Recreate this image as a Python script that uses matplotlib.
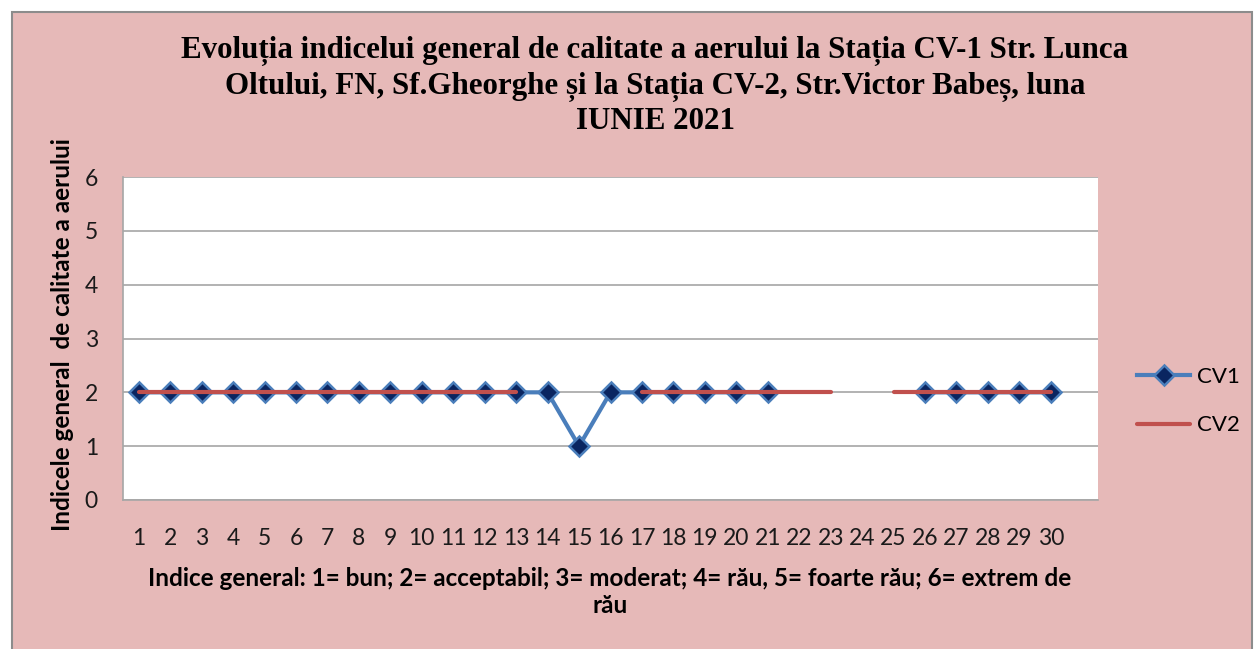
import numpy as np
import matplotlib
matplotlib.use("Agg")
import matplotlib.pyplot as plt
from matplotlib.patches import Rectangle

days = list(range(1, 32))
day_labels = [str(d) for d in range(1, 31)] + [""]
nan = np.nan
cv1 = [2, 2, 2, 2, 2, 2, 2, 2, 2, 2, 2, 2, 2, 2, 1, 2, 2, 2, 2, 2, 2,
       nan, nan, nan, nan, 2, 2, 2, 2, 2, nan]
cv2 = [2, 2, 2, 2, 2, 2, 2, 2, 2, 2, 2, 2, 2, nan, nan, nan, 2, 2, 2, 2, 2, 2, 2,
       nan, 2, 2, 2, 2, 2, 2, nan]
yticks = [0, 1, 2, 3, 4, 5, 6]

title = ("Evoluția indicelui general de calitate a aerului la Stația CV-1 Str. Lunca\n"
         "Oltului, FN, Sf.Gheorghe și la Stația CV-2, Str.Victor Babeș, luna\n"
         "IUNIE 2021")
xlabel = ("Indice general: 1= bun; 2= acceptabil; 3= moderat; 4= rău, 5= foarte rău; 6= extrem de\n"
          "rău")
ylabel = "Indicele general  de calitate a aerului"

W, H = 1255, 649
fig = plt.figure(figsize=(W / 100, H / 100), dpi=100, facecolor="white")
bg = "#E6B9B8"
fig.patches.append(Rectangle((12 / W, -0.05), (1252 - 12) / W, (H - 12) / H + 0.05,
                             transform=fig.transFigure, facecolor=bg,
                             edgecolor="#8C8C8C", linewidth=1.5, zorder=-10))

ax = fig.add_axes([123 / W, (H - 500) / H, (1098 - 123) / W, (500 - 177) / H])
ax.set_facecolor("white")

ax.plot(days, cv1, color="#4A7EBB", linewidth=3, marker="D", markersize=10,
        markerfacecolor="#0A2560", markeredgecolor="#4A7EBB", markeredgewidth=1.8,
        label="CV1", zorder=3)
ax.plot(days, cv2, color="#C0504D", linewidth=3, label="CV2", zorder=4,
        solid_capstyle="round")

ax.set_xlim(0.5, 31.5)
ax.set_ylim(0, 6)
ax.set_yticks(yticks)
ax.set_xticks(days)
ax.set_xticklabels(day_labels)
for lab in ax.get_xticklabels() + ax.get_yticklabels():
    lab.set_fontfamily("Lato")
    lab.set_fontsize(16.5)
    lab.set_color("#1A1A1A")
ax.tick_params(axis="both", length=0)
ax.tick_params(axis="x", pad=20)
ax.tick_params(axis="y", pad=18)
ax.grid(axis="y", color="#A6A6A6", linewidth=1.2)
ax.set_axisbelow(True)
for s in ["top", "right"]:
    ax.spines[s].set_visible(False)
for s in ["left", "bottom"]:
    ax.spines[s].set_color("#A6A6A6")
    ax.spines[s].set_linewidth(1.2)

fig.text(655 / W, (H - 86) / H, title, ha="center", va="center",
         fontsize=22.3, fontweight="bold", family="Liberation Serif",
         linespacing=1.25)
fig.text(610 / W, (H - 592) / H, xlabel, ha="center", va="center",
         fontsize=17.5, fontweight="bold", family="Lato", linespacing=1.22)
fig.text(63 / W, (H - 335) / H, ylabel, ha="center", va="center", rotation=90,
         fontsize=17.5, fontweight="bold", family="Lato")

leg = fig.legend(loc="center left", bbox_to_anchor=(1137 / W, (H - 401) / H),
                 frameon=False, handlelength=2.4, labelspacing=1.3,
                 handletextpad=0.3, borderpad=0, borderaxespad=0,
                 prop=dict(family="Lato", size=16))

fig.savefig("out.png", dpi=100, facecolor="white")
